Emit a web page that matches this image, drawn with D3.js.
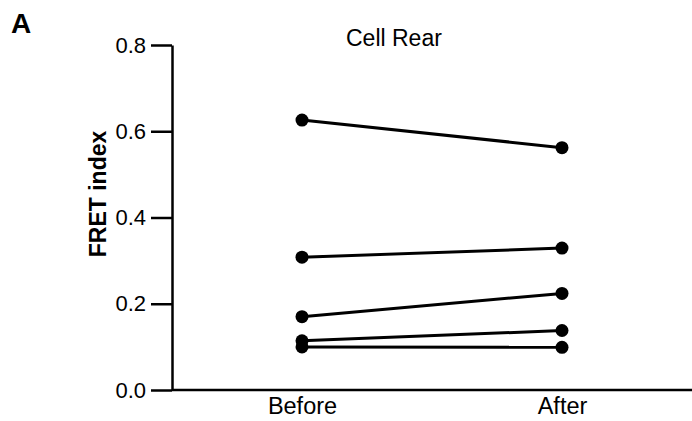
<!DOCTYPE html>
<html>
<head>
<meta charset="utf-8">
<script src="https://cdn.jsdelivr.net/npm/d3@7"></script>
<style>
  body { margin: 0; background: #fff; }
  text { font-family: "Liberation Sans", Arial, sans-serif; fill: #000; }
</style>
</head>
<body>
<div id="chart"></div>
<script>
const conditions = ["Before", "After"]
const beforeValues = [0.626, 0.308, 0.170, 0.114, 0.100]
const afterValues = [0.562, 0.329, 0.224, 0.138, 0.099]
const yTicks = [0.0, 0.2, 0.4, 0.6, 0.8]

const width = 692
const height = 421
const margin = { top: 45, right: 0, bottom: 31, left: 172 }

const svg = d3.select("#chart")
  .append("svg")
  .attr("width", width)
  .attr("height", height)

const x = d3.scalePoint()
  .domain(conditions)
  .range([margin.left, width - margin.right])
  .padding(0.5)

const y = d3.scaleLinear()
  .domain([0, 0.8])
  .range([height - margin.bottom, margin.top])

// Pair each cell's before/after value
const pairs = beforeValues.map((b, i) => [
  { cond: "Before", value: b },
  { cond: "After", value: afterValues[i] }
])

// y axis
const yAxis = svg.append("g")
  .attr("transform", `translate(${margin.left},0)`)
  .call(d3.axisLeft(y)
    .tickValues(yTicks)
    .tickFormat(d3.format(".1f"))
    .tickSizeInner(21)
    .tickSizeOuter(0)
    .tickPadding(5))
yAxis.select(".domain").attr("stroke-width", 2.5)
yAxis.selectAll(".tick line").attr("stroke-width", 2.5)
yAxis.selectAll(".tick text")
  .style("font-size", "22px")
  .attr("fill", "#000")

// x axis (line only)
const xAxis = svg.append("g")
  .attr("transform", `translate(0,${y(0)})`)
  .call(d3.axisBottom(x).tickSize(0).tickPadding(7))
xAxis.select(".domain")
  .attr("d", `M${margin.left},0H${width}`)
  .attr("stroke-width", 2.5)
xAxis.selectAll(".tick text")
  .style("font-size", "23.5px")
  .attr("fill", "#000")

// connecting lines
const line = d3.line()
  .x(d => x(d.cond))
  .y(d => y(d.value))

svg.selectAll(".pair")
  .data(pairs)
  .enter()
  .append("path")
  .attr("class", "pair")
  .attr("d", line)
  .attr("fill", "none")
  .attr("stroke", "#000")
  .attr("stroke-width", 3)

// dots
svg.selectAll(".dot")
  .data(pairs.flat())
  .enter()
  .append("circle")
  .attr("class", "dot")
  .attr("cx", d => x(d.cond))
  .attr("cy", d => y(d.value))
  .attr("r", 6.5)
  .attr("fill", "#000")

// title
svg.append("text")
  .attr("x", 346)
  .attr("y", 46)
  .style("font-size", "23px")
  .text("Cell Rear")

// y label
svg.append("text")
  .attr("transform", `translate(106,194) rotate(-90)`)
  .attr("text-anchor", "middle")
  .style("font-size", "23px")
  .style("font-weight", "bold")
  .text("FRET index")

// panel letter
svg.append("text")
  .attr("x", 11)
  .attr("y", 33)
  .style("font-size", "28px")
  .style("font-weight", "bold")
  .text("A")
</script>
</body>
</html>
